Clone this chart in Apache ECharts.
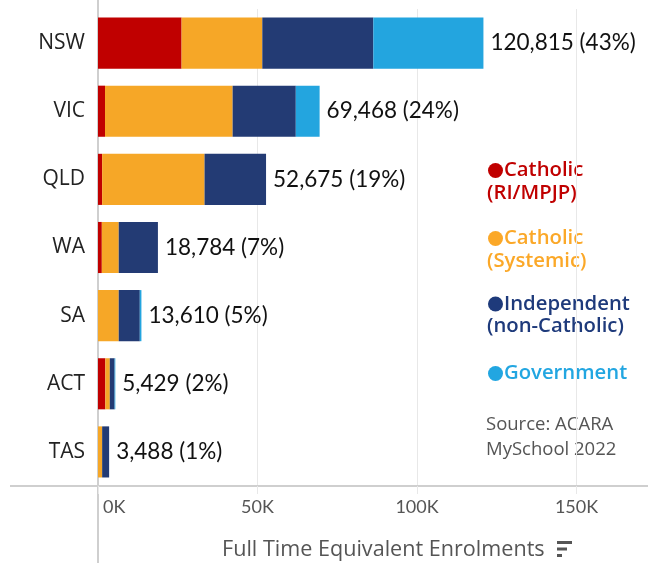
<!DOCTYPE html>
<html>
<head>
<meta charset="utf-8">
<script src="https://cdn.jsdelivr.net/npm/echarts@6/dist/echarts.min.js"></script>
<style>html,body{margin:0;padding:0;background:#fff}#c{width:648px;height:563px}</style>
</head>
<body>
<div id="c"></div>
<script>
const states = ['NSW', 'VIC', 'QLD', 'WA', 'SA', 'ACT', 'TAS'];
const catholicRI = [26200, 2200, 1300, 1200, 0, 2300, 0];
const catholicSystemic = [25300, 40000, 32100, 5300, 6500, 1400, 1300];
const independent = [34800, 19800, 19275, 12284, 6600, 1500, 2188];
const government = [34515, 7468, 0, 0, 510, 229, 0];
const totals = [120815, 69468, 52675, 18784, 13610, 5429, 3488];
const shares = ['43%', '24%', '19%', '7%', '5%', '2%', '1%'];
const xTicks = [0, 50000, 100000, 150000];
const legendItems = [
  ['Catholic', '(RI/MPJP)'],
  ['Catholic', '(Systemic)'],
  ['Independent', '(non-Catholic)'],
  ['Government']
];
const sourceLines = ['Source: ACARA', 'MySchool 2022'];

const barColors = ['#c00000', '#f6a727', '#233b74', '#23a5df'];
const legendColors = ['#c00000', '#fba828', '#1e3a7b', '#22a6e1'];
const legendY = [170.5, 238.5, 304, 373.5];
const chart = echarts.init(document.getElementById('c'));
const numFont = 'Lato';

function seg(name, data, color) {
  return { name, type: 'bar', stack: 'all', data, barWidth: '75%',
    itemStyle: { color }, emphasis: { disabled: true } };
}

const graphics = [
  { type: 'line', shape: { x1: 98, y1: 0, x2: 98, y2: 10 }, style: { stroke: '#cfcfcf', lineWidth: 2 } },
  { type: 'line', shape: { x1: 98, y1: 486, x2: 98, y2: 563 }, style: { stroke: '#cfcfcf', lineWidth: 2 } },
  { type: 'line', shape: { x1: 10, y1: 486, x2: 98, y2: 486 }, style: { stroke: '#cfcfcf', lineWidth: 2 } },
  { type: 'text', style: { x: 222, y: 550, verticalAlign: 'middle', text: 'Full Time Equivalent Enrolments', font: '21.6px "Open Sans"', fill: '#555' } },
  { type: 'rect', shape: { x: 557, y: 541, width: 15, height: 3 }, style: { fill: '#555' } },
  { type: 'rect', shape: { x: 557, y: 547.5, width: 10, height: 3 }, style: { fill: '#555' } },
  { type: 'rect', shape: { x: 557, y: 554, width: 5, height: 3 }, style: { fill: '#555' } }
];
sourceLines.forEach((t, i) => {
  graphics.push({ type: 'text', style: { x: 486, y: 425 + i * 24.5, verticalAlign: 'middle', text: t, fill: '#555', font: '18.5px "Open Sans"' } });
});
legendItems.forEach((lines, i) => {
  graphics.push({ type: 'circle', shape: { cx: 495.5, cy: legendY[i], r: 7.5 }, style: { fill: legendColors[i] } });
  graphics.push({ type: 'text', style: { x: 504, y: legendY[i], verticalAlign: 'middle', text: lines[0], fill: legendColors[i], font: '600 20.3px "Open Sans"' } });
  if (lines[1]) graphics.push({ type: 'text', style: { x: 487, y: legendY[i] + 22.5, verticalAlign: 'middle', text: lines[1], fill: legendColors[i], font: '600 20.3px "Open Sans"' } });
});

chart.setOption({
  animation: false,
  grid: { left: 98, right: 0, top: 9, bottom: 77, containLabel: false },
  xAxis: {
    type: 'value', min: 0, max: 172400, interval: 50000,
    axisLine: { show: true, lineStyle: { color: '#cfcfcf', width: 2 } },
    axisTick: { show: true, length: 8, lineStyle: { color: '#e8e8e8' } },
    splitLine: { show: true, lineStyle: { color: '#e8e8e8', width: 1 } },
    axisLabel: { showMaxLabel: false, alignMinLabel: 'left', margin: 12, fontFamily: numFont, fontSize: 18, color: '#555',
      rich: { z: { fontFamily: numFont, fontSize: 18, color: '#555', padding: [0, 0, 0, 5] } },
      formatter: v => v === 0 ? '{z|0K}' : (xTicks.indexOf(v) >= 0 ? (v / 1000) + 'K' : '') }
  },
  yAxis: {
    type: 'category', data: states, inverse: true,
    axisLine: { show: true, lineStyle: { color: '#cfcfcf', width: 2 } },
    axisTick: { show: false },
    axisLabel: { fontFamily: 'Open Sans', fontSize: 21, color: '#222', margin: 13 }
  },
  series: [
    seg('Catholic (RI/MPJP)', catholicRI, barColors[0]),
    seg('Catholic (Systemic)', catholicSystemic, barColors[1]),
    seg('Independent (non-Catholic)', independent, barColors[2]),
    seg('Government', government, barColors[3]),
    { name: 'total', type: 'bar', stack: 'all', data: states.map(() => 0), barWidth: '75%',
      itemStyle: { color: 'transparent' },
      label: { show: true, position: 'right', distance: 7, fontFamily: numFont, fontSize: 22.5, color: '#111',
        formatter: p => totals[p.dataIndex].toLocaleString('en-US') + ' (' + shares[p.dataIndex] + ')' } }
  ],
  graphic: graphics
});
</script>
</body>
</html>
